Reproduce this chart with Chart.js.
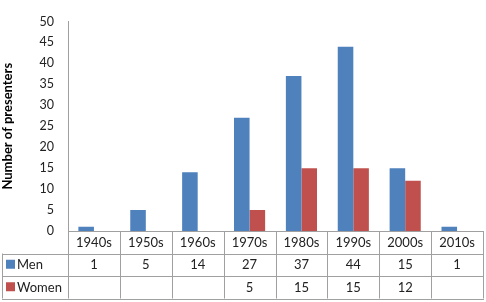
<!DOCTYPE html>
<html>
<head>
<meta charset="utf-8">
<script src="https://cdn.jsdelivr.net/npm/chart.js@4.4.1/dist/chart.umd.min.js"></script>
<style>
  html, body { margin: 0; padding: 0; background: #fff; }
  #wrap { width: 486px; height: 302px; }
</style>
</head>
<body>
<div id="wrap"><canvas id="grafico" width="486" height="302"></canvas></div>
<script>
// ================== DATOS ==================
const decadas = ['1940s', '1950s', '1960s', '1970s', '1980s', '1990s', '2000s', '2010s'];
const hombres = [1, 5, 14, 27, 37, 44, 15, 1];
const mujeres = [null, null, null, 5, 15, 15, 12, null];
const nombres = ['Men', 'Women'];
const colores = ['#4f81bd', '#c0504d'];

const fuente = 'Lato, "Open Sans", sans-serif';
const colorLinea = '#a0a0a0';

// ================== TABLA DE DATOS (plugin) ==================
const tablaDatos = {
    id: 'tablaDatos',
    afterDraw(chart) {
        const c = chart.ctx;
        const x = chart.scales.x;
        const area = chart.chartArea;
        const filaH = 22.5;
        const arriba = area.bottom;
        const izq = 2;
        const n = decadas.length;

        // bordes entre categorias
        const bordes = [area.left];
        for (let i = 0; i < n - 1; i++) {
            bordes.push((x.getPixelForValue(i) + x.getPixelForValue(i + 1)) / 2);
        }
        bordes.push(area.right);

        c.save();
        c.strokeStyle = colorLinea;
        c.lineWidth = 1;
        c.beginPath();
        // lineas verticales
        bordes.forEach(b => {
            const px = Math.round(b) + 0.5;
            c.moveTo(px, arriba);
            c.lineTo(px, arriba + filaH * 3);
        });
        c.moveTo(izq + 0.5, arriba + filaH);
        c.lineTo(izq + 0.5, arriba + filaH * 3);
        // lineas horizontales
        for (let f = 1; f <= 3; f++) {
            const py = Math.round(arriba + filaH * f) + 0.5;
            c.moveTo(izq, py);
            c.lineTo(Math.round(area.right) + 1, py);
        }
        c.stroke();

        // filas: leyenda + valores
        c.font = '13px ' + fuente;
        c.textBaseline = 'middle';
        [hombres, mujeres].forEach((serie, f) => {
            const cy = arriba + filaH * (f + 1) + filaH / 2;
            c.fillStyle = colores[f];
            c.fillRect(izq + 4, cy - 5, 9, 9);
            c.fillStyle = '#222';
            c.textAlign = 'left';
            c.fillText(nombres[f], izq + 15, cy + 0.5);
            c.textAlign = 'center';
            serie.forEach((v, i) => {
                if (v !== null) c.fillText(String(v), x.getPixelForValue(i), cy + 0.5);
            });
        });
        c.restore();
    }
};

// ================== GRÁFICO ==================
const ctx = document.getElementById('grafico');

const grafico = new Chart(ctx, {
    type: 'bar',
    data: {
        labels: decadas,
        datasets: [{
            label: nombres[0],
            data: hombres,
            backgroundColor: colores[0]
        }, {
            label: nombres[1],
            data: mujeres,
            backgroundColor: colores[1]
        }]
    },
    options: {
        responsive: false,
        animation: false,
        layout: { padding: { left: 0, top: 8, right: 3, bottom: 0 } },
        datasets: {
            bar: { categoryPercentage: 0.6, barPercentage: 1.0 }
        },
        plugins: {
            legend: { display: false },
            tooltip: { enabled: false }
        },
        scales: {
            x: {
                grid: { display: false, drawTicks: false },
                border: { display: true, color: colorLinea },
                ticks: {
                    color: '#222',
                    padding: 4,
                    maxRotation: 0,
                    font: { family: fuente, size: 13 }
                },
                afterFit(scale) { scale.height = 71; }
            },
            y: {
                min: 0,
                max: 50,
                grid: { display: false, drawTicks: false },
                border: { display: true, color: colorLinea },
                ticks: {
                    stepSize: 5,
                    color: '#222',
                    padding: 14,
                    font: { family: fuente, size: 12.5 }
                },
                title: {
                    display: true,
                    text: 'Number of presenters',
                    color: '#000',
                    padding: 0,
                    font: { family: fuente, size: 13, weight: 'bold' }
                },
                afterFit(scale) { scale.width = 68; }
            }
        }
    },
    plugins: [tablaDatos]
});
</script>
</body>
</html>
